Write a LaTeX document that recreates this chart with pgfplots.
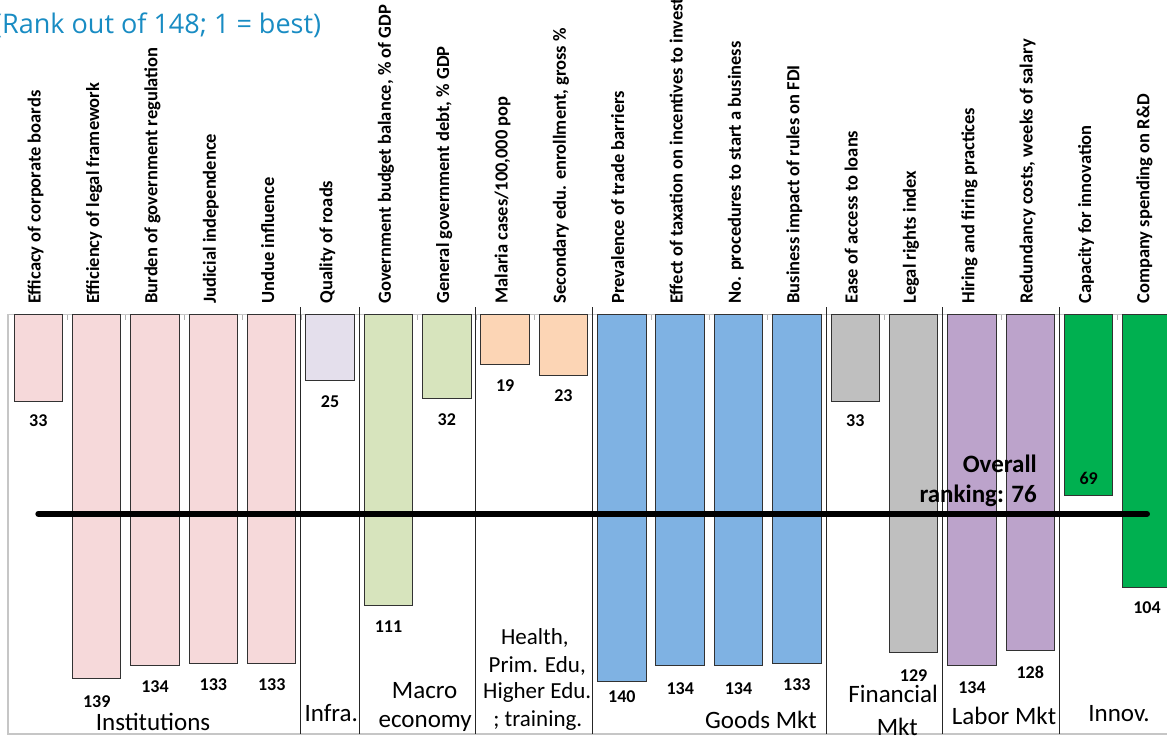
\documentclass[border=0pt]{standalone}
\usepackage{pgfplots}
\pgfplotsset{compat=1.18}
\usepackage{pgfplotstable}
\usepackage{fontspec}
\setmainfont{Carlito}
\newfontfamily\titlefont{Open Sans}
\definecolor{inst}{RGB}{246,217,218}
\definecolor{infra}{RGB}{228,223,236}
\definecolor{macro}{RGB}{215,228,189}
\definecolor{health}{RGB}{252,213,181}
\definecolor{goods}{RGB}{127,178,227}
\definecolor{fin}{RGB}{191,191,191}
\definecolor{labor}{RGB}{188,163,203}
\definecolor{innov}{RGB}{0,176,80}
\definecolor{titleblue}{RGB}{25,140,195}
\definecolor{baredge}{RGB}{50,50,50}

\pgfplotstableread{
x y lab
0 40.5 33
1 147.7 139
2 142.0 134
3 141.2 133
4 141.2 133
5 33.2 25
6 119.1 111
7 40.1 32
8 27.1 19
9 30.9 23
10 145.8 140
11 142.7 134
12 142.7 134
13 141.2 133
14 40.5 33
15 137.8 129
16 142.4 134
17 136.3 128
18 62.6 69
19 111.8 104
}\labeltable

\pgfplotstableread{
x y
4.5 -2.8
4.5 160
nan nan
5.5 -2.8
5.5 160
nan nan
7.5 -2.8
7.5 160
nan nan
9.5 -2.8
9.5 160
nan nan
13.5 -2.8
13.5 160
nan nan
15.5 -2.8
15.5 160
nan nan
17.5 -2.8
17.5 160
}\septable

\begin{document}
\begin{tikzpicture}
\useasboundingbox (0,0) rectangle (1167pt,736pt);
\node[anchor=base west, inner sep=0pt, text=titleblue, font=\titlefont\fontsize{27}{32}\selectfont] at (-6pt,702pt) {(Rank out of 148; 1 = best)};
\begin{axis}[
  at={(8pt,2pt)}, anchor=south west,
  scale only axis,
  width=1167pt, height=419.2pt,
  xmin=-0.52, xmax=19.48,
  ymin=0, ymax=160,
  y dir=reverse,
  clip=false,
  axis line style={draw=gray!45, line width=1.2pt},
  ytick=\empty,
  xtick={0,...,19},
  minor x tick num=1,
  xtick pos=right,
  xticklabel pos=right,
  tick align=inside,
  major tick length=0pt,
  minor tick length=5pt,
  minor tick style={draw=gray!60, line width=0.8pt},
  xticklabels={{Efficacy of corporate boards},{Efficiency of legal framework},{Burden of government regulation},{Judicial independence},{Undue influence},{Quality of roads},{Government budget balance, \% of GDP},{General government debt, \% GDP},{Malaria cases/100,000 pop},{Secondary edu. enrollment, gross \%},{Prevalence of trade barriers},{Effect of taxation on incentives to invest},{No. procedures to start a business},{Business impact of rules on FDI},{Ease of access to loans},{Legal rights index},{Hiring and firing practices},{Redundancy costs, weeks of salary},{Capacity for innovation},{Company spending on R\&D}},
  xticklabel style={rotate=90, anchor=west, inner xsep=11pt, inner ysep=0pt, text height=0.68em, text depth=0.2em, font=\bfseries\fontsize{18.5}{20}\selectfont},
  every axis plot/.append style={bar width=0.83, bar shift=0pt},
]
\addplot[ybar, bar shift=0pt, fill=inst, draw=baredge, line width=1pt] coordinates {(0,33) (1,139) (2,134) (3,133) (4,133)};
\addplot[ybar, bar shift=0pt, fill=infra, draw=baredge, line width=1pt] coordinates {(5,25)};
\addplot[ybar, bar shift=0pt, fill=macro, draw=baredge, line width=1pt] coordinates {(6,111) (7,32)};
\addplot[ybar, bar shift=0pt, fill=health, draw=baredge, line width=1pt] coordinates {(8,19) (9,23)};
\addplot[ybar, bar shift=0pt, fill=goods, draw=baredge, line width=1pt] coordinates {(10,140) (11,134) (12,134) (13,133)};
\addplot[ybar, bar shift=0pt, fill=fin, draw=baredge, line width=1pt] coordinates {(14,33) (15,129)};
\addplot[ybar, bar shift=0pt, fill=labor, draw=baredge, line width=1pt] coordinates {(16,134) (17,128)};
\addplot[ybar, bar shift=0pt, fill=innov, draw=baredge, line width=1pt] coordinates {(18,69) (19,104)};
% group separators
\addplot[black!85, line width=1pt, unbounded coords=jump] table[x=x, y=y] {\septable};
% overall ranking line
\addplot[black, line width=6pt, line cap=round] coordinates {(0,76) (19,76)};
% value labels
\addplot[draw=none, nodes near coords, point meta=explicit symbolic,
  every node near coord/.append style={anchor=center, inner sep=0pt, text=black, font=\bfseries\fontsize{18}{20}\selectfont}]
  table[x=x, y=y, meta=lab] {\labeltable};
% overall text
\node[anchor=base east, inner sep=0pt, font=\bfseries\fontsize{25}{30}\selectfont] at (axis cs:17.115,60.3) {Overall};
\node[anchor=base east, inner sep=0pt, font=\bfseries\fontsize{25}{30}\selectfont] at (axis cs:17.115,71.8) {ranking: 76};
% group labels
\begin{scope}[every node/.style={anchor=base, inner sep=0pt, font=\fontsize{25}{30}\selectfont}]
\node at (axis cs:1.966,158.8) {Institutions};
\node at (axis cs:5.02,155.3) {Infra.};
\node at (axis cs:6.62,146.6) {Macro};
\node at (axis cs:6.63,157.6) {economy};
\node at (axis cs:12.385,158.0) {Goods Mkt};
\node at (axis cs:14.65,148.1) {Financial};
\node at (axis cs:14.72,160.6) {Mkt};
\node at (axis cs:16.55,156.5) {Labor Mkt};
\node at (axis cs:18.52,155.3) {Innov.};
\end{scope}
\begin{scope}[every node/.style={anchor=base, inner sep=0pt, font=\fontsize{23}{27}\selectfont}]
\node at (axis cs:8.51,126.0) {Health,};
\node at (axis cs:8.55,136.6) {Prim. Edu,};
\node at (axis cs:8.55,146.6) {Higher Edu.};
\node at (axis cs:8.56,157.3) {; training.};
\end{scope}
\end{axis}
\end{tikzpicture}
\end{document}
